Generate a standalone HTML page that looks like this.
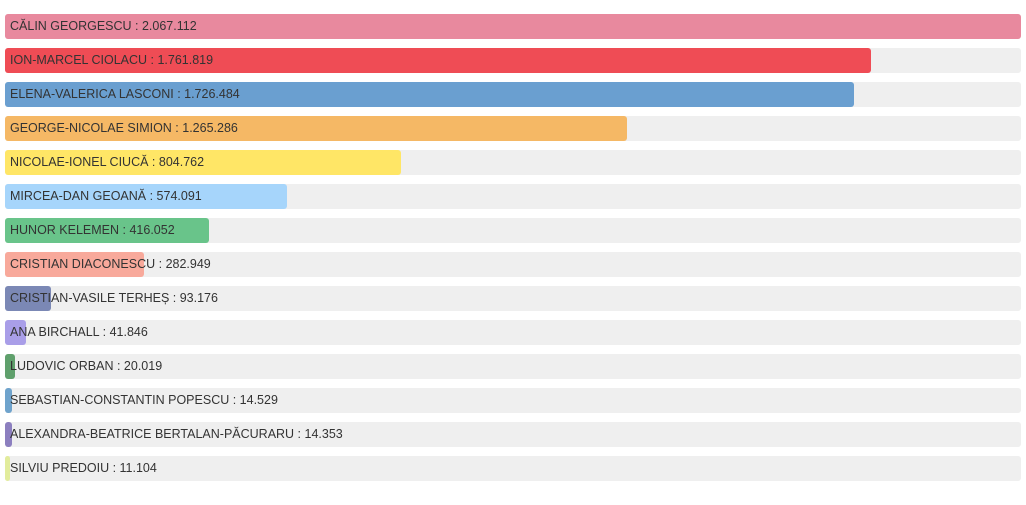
<!DOCTYPE html>
<html><head><meta charset="utf-8"><style>
body{margin:0;background:#fff;width:1026px;height:505px;overflow:hidden;font-family:"Liberation Sans",sans-serif}
.row{position:absolute;left:5px;width:1016px;height:25px;background:#efefef;border-radius:3px}
.bar{position:absolute;left:0;top:0;height:25px;border-radius:3px}
.lbl{position:absolute;left:5px;top:0;line-height:25px;font-size:12.5px;color:#333;white-space:nowrap}
</style></head><body>
<div id="chart"></div>
<script>
const candidates=["CĂLIN GEORGESCU","ION-MARCEL CIOLACU","ELENA-VALERICA LASCONI","GEORGE-NICOLAE SIMION","NICOLAE-IONEL CIUCĂ","MIRCEA-DAN GEOANĂ","HUNOR KELEMEN","CRISTIAN DIACONESCU","CRISTIAN-VASILE TERHEȘ","ANA BIRCHALL","LUDOVIC ORBAN","SEBASTIAN-CONSTANTIN POPESCU","ALEXANDRA-BEATRICE BERTALAN-PĂCURARU","SILVIU PREDOIU"];
const votes=[2067112,1761819,1726484,1265286,804762,574091,416052,282949,93176,41846,20019,14529,14353,11104];
const colors=["#e8899e","#ef4c55","#6a9fd0","#f5b865","#ffe666","#a6d5fb","#69c48a","#f8a99b","#7b88b5","#a99ee8","#5fa06c","#6fa3cc","#8c7fbf","#e2ec9c"];
const chart=document.getElementById('chart');
const maxV=Math.max(...votes);
const W=1016,top0=14,step=34;
const xs=v=>v/maxV*W;
const fmt=v=>String(v).replace(/\B(?=(\d{3})+(?!\d))/g,'.');
candidates.forEach((c,i)=>{
 const row=document.createElement('div');row.className='row';row.style.top=(top0+i*step)+'px';
 
 
 const b=document.createElement('div');b.className='bar';b.style.width=xs(votes[i])+'px';b.style.background=colors[i];
 
 
 const l=document.createElement('div');l.className='lbl';l.textContent=c+' : '+fmt(votes[i]);
 
 
 row.appendChild(b);row.appendChild(l);chart.appendChild(row);
});
</script>
</body></html>
